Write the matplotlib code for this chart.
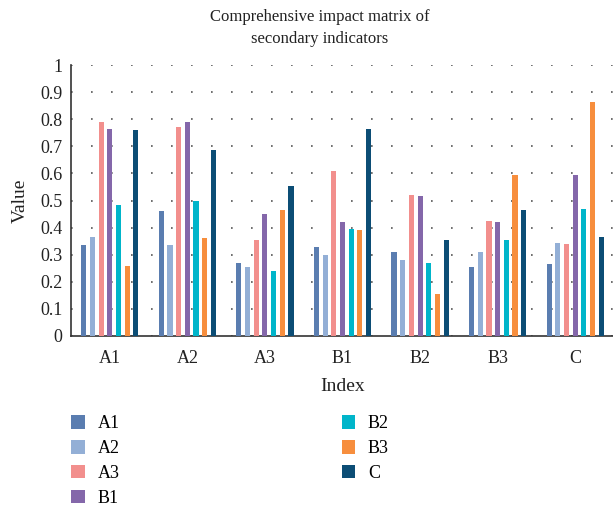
import matplotlib
matplotlib.use("Agg")
import matplotlib.pyplot as plt
import numpy as np

plt.rcParams['font.family'] = ['Liberation Serif', 'DejaVu Serif']

groups = ['A1', 'A2', 'A3', 'B1', 'B2', 'B3', 'C']
series = ['A1', 'A2', 'A3', 'B1', 'B2', 'B3', 'C']
colors = ['#5a7db0', '#93afd6', '#f28f8d', '#8467aa', '#00b5ca', '#f78e3d', '#0c4d75']

A1 = [0.335, 0.46, 0.27, 0.33, 0.31, 0.255, 0.265]
A2 = [0.365, 0.335, 0.255, 0.30, 0.28, 0.31, 0.345]
A3 = [0.79, 0.77, 0.355, 0.61, 0.52, 0.425, 0.34]
B1 = [0.765, 0.79, 0.45, 0.42, 0.515, 0.42, 0.595]
B2 = [0.485, 0.50, 0.24, 0.395, 0.27, 0.355, 0.47]
B3 = [0.26, 0.36, 0.465, 0.39, 0.155, 0.595, 0.865]
C = [0.76, 0.685, 0.555, 0.765, 0.355, 0.465, 0.365]
values = [A1, A2, A3, B1, B2, B3, C]

fig = plt.figure(figsize=(6.13, 5.13), dpi=100)
ax = fig.add_axes([71 / 613, 1 - 336 / 513, 543 / 613, 271 / 513])

x = np.arange(len(groups))
pitch = 0.112
for i, (name, vals) in enumerate(zip(series, values)):
    ax.bar(x + (i - 3) * pitch, vals, width=0.066, color=colors[i], label=name, zorder=3)

ax.set_xlim(-0.5, 6.5)
ax.set_ylim(0, 1)
ax.set_yticks(np.arange(0, 1.01, 0.1))
ax.set_yticklabels(['0', '0.1', '0.2', '0.3', '0.4', '0.5', '0.6', '0.7', '0.8', '0.9', '1'])
ax.set_xticks(x)
ax.set_xticklabels(groups)
ax.tick_params(axis='y', length=0, labelsize=13, colors='#222222', pad=6)
ax.tick_params(axis='x', length=0, labelsize=13, colors='#222222', pad=10)
ax.yaxis.grid(True, linestyle=(0, (1, 11)), color='#555555', linewidth=1.2, zorder=0)
for s in ['top', 'right']:
    ax.spines[s].set_visible(False)
for s in ['left', 'bottom']:
    ax.spines[s].set_color('#333333')
    ax.spines[s].set_linewidth(1.2)

ax.set_xlabel('Index', fontsize=14, color='#222222', labelpad=8)
ax.set_ylabel('Value', fontsize=14, color='#222222', labelpad=8)
fig.text(320 / 613, 1 - 28 / 513, 'Comprehensive impact matrix of\nsecondary indicators',
         ha='center', va='center', fontsize=12, color='#222222', linespacing=1.5)

handles, labels = ax.get_legend_handles_labels()
fig.legend(handles, labels, loc='upper left', bbox_to_anchor=(55 / 613, 1 - 399 / 513),
           ncol=2, frameon=False, fontsize=13, handlelength=0.75, handleheight=0.75,
           columnspacing=12.3, labelspacing=0.44, handletextpad=0.7)

fig.savefig('out.png', dpi=100)
